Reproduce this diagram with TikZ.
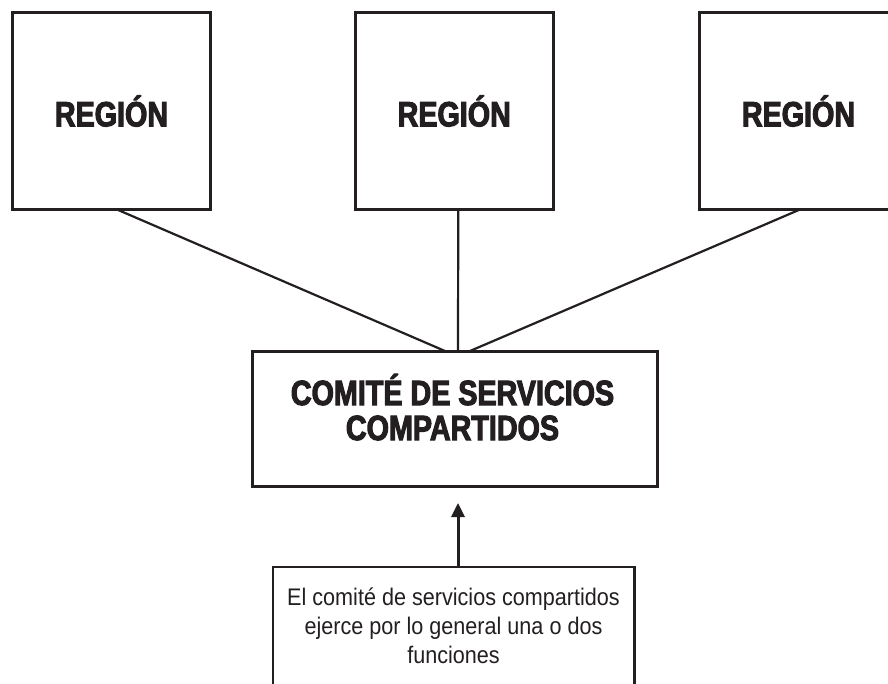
\documentclass[tikz,border=0pt]{standalone}
\usepackage{fontspec}
\setmainfont{Liberation Sans}
\newfontfamily\hbold[FakeStretch=0.82,FakeBold=3]{Liberation Sans Bold}
\newfontfamily\hreg[FakeStretch=0.9]{Liberation Sans}
\usetikzlibrary{arrows.meta,calc}
\definecolor{ink}{RGB}{35,31,32}
\begin{document}
\begin{tikzpicture}[x=1pt,y=-1pt,
  every node/.style={inner sep=0pt, outer sep=0pt},
  box/.style={draw=ink, line width=3pt},
  region/.style={box, minimum width=198pt, minimum height=197pt,
    font=\hbold\fontsize{35}{35}\selectfont, text=ink},
  link/.style={draw=ink, line width=2.2pt},
  arrowline/.style={draw=ink, line width=3pt, -{Triangle[width=13pt,length=14pt]}}]
\useasboundingbox (0,0) rectangle (888,683);
\node[region] (L) at (111.5,111) {REGIÓN};
\node[region, minimum width=198.5pt] (M) at (454.25,111) {REGIÓN};
\node[region] (R) at (798.5,111) {REGIÓN};
\node[box, minimum width=405pt, minimum height=135pt] (C) at (454.5,418.5) {};
\node[font=\hbold\fontsize{35}{35}\selectfont, align=center, anchor=base, text=ink] (Ct) at (452.5,440) {COMITÉ DE SERVICIOS\\COMPARTIDOS};
\node[box, line width=2.5pt, minimum width=361.5pt, minimum height=150pt, anchor=north] (B) at (453.75,567) {};
\node[font=\hreg\fontsize{24}{29}\selectfont, align=center, anchor=base, text=ink] (Bt) at (453.5,663) {El comité de servicios compartidos\\ejerce por lo general una o dos\\funciones};
\draw[link] ([xshift=5.5pt]L.south) -- ([xshift=-9.5pt]C.north);
\draw[link] ([xshift=4pt]M.south) -- ([xshift=3.5pt]C.north);
\draw[link] ([xshift=1.5pt]R.south) -- ([xshift=15.5pt]C.north);
\coordinate (tip) at (458,503);
\draw[arrowline] ([xshift=4.25pt]B.north) -- (tip);
\end{tikzpicture}
\end{document}
